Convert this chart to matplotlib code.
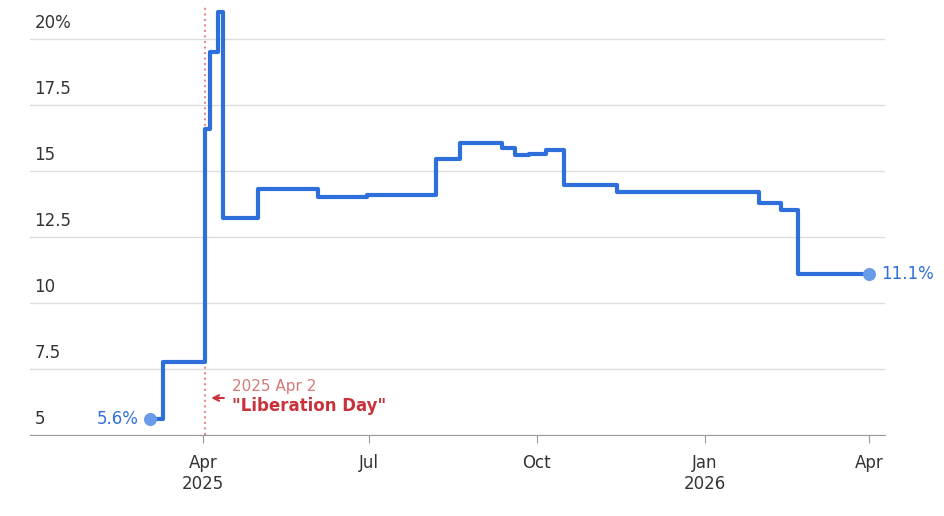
import numpy as np
import matplotlib.pyplot as plt
import matplotlib.dates as mdates
import matplotlib.transforms as mtrans
from datetime import date

# Step changes (date, rate %)
dates = ["2025-03-03", "2025-03-10", "2025-04-02", "2025-04-03", "2025-04-05", "2025-04-09",
         "2025-04-12", "2025-05-01", "2025-06-03", "2025-06-30", "2025-08-07", "2025-08-20",
         "2025-09-12", "2025-09-19", "2025-09-27", "2025-10-06", "2025-10-16", "2025-11-14",
         "2026-01-31", "2026-02-12", "2026-02-21", "2026-04-01"]
rates = [5.6, 7.75, 16.6, 16.6, 19.5, 21.0,
         13.2, 14.3, 14.0, 14.1, 15.45, 16.05,
         15.85, 15.6, 15.65, 15.8, 14.45, 14.2,
         13.8, 13.5, 11.1, 11.1]
yticks = [5, 7.5, 10, 12.5, 15, 17.5, 20]
ylabels = ["5", "7.5", "10", "12.5", "15", "17.5", "20%"]
xticks = ["2025-04-01", "2025-07-01", "2025-10-01", "2026-01-01", "2026-04-01"]
xlabels = ["Apr\n2025", "Jul", "Oct", "Jan\n2026", "Apr"]

blue = "#2f6fdb"
red = "#c8333b"
x = mdates.datestr2num(dates)

fig = plt.figure(figsize=(9.45, 5.16), dpi=100)
ax = fig.add_axes([30/945, 81/516, 855/945, 428/516])
apr1 = mdates.date2num(date(2025, 4, 1))
ax.set_xlim(apr1 - 94.8, apr1 + 373.9)
ax.set_ylim(5, 21.2)

ax.step(x, rates, where="post", color=blue, lw=3, zorder=3)
ax.scatter([x[0], x[-1]], [rates[0], rates[-1]], s=70, color="#6a9be8", zorder=4)

for s in ["top", "right", "left"]:
    ax.spines[s].set_visible(False)
ax.spines["bottom"].set_color("#999999")
ax.set_yticks(yticks)
ax.set_yticklabels([])
ax.tick_params(axis="y", length=0)
ax.grid(axis="y", color="#dddddd", lw=1)
tr = mtrans.blended_transform_factory(ax.transAxes, ax.transData)
for v, l in zip(yticks, ylabels):
    ax.text(0.005, v + 0.25, l, transform=tr, fontsize=12, color="#333333", va="bottom", ha="left")

ax.set_xticks(mdates.datestr2num(xticks))
ax.set_xticklabels(xlabels, fontsize=12, color="#333333")
ax.tick_params(axis="x", length=6, color="#999999", pad=8)

lib = mdates.datestr2num("2025-04-02")
ax.axvline(lib, color="#e88a8a", ls=":", lw=1.5, zorder=2)
ax.annotate("", xy=(lib + 2, 6.4), xytext=(lib + 12, 6.4),
            arrowprops=dict(arrowstyle="->", color=red, lw=1.5))
ax.text(lib + 15, 6.85, "2025 Apr 2", color="#d47a7a", fontsize=11, va="center")
ax.text(lib + 15, 6.1, '"Liberation Day"', color=red, fontsize=12, fontweight="bold", va="center")

ax.text(x[0] - 6, rates[0], "5.6%", color=blue, fontsize=12, ha="right", va="center")
ax.text(x[-1] + 7, rates[-1], "11.1%", color=blue, fontsize=12, ha="left", va="center")

plt.savefig("out.png", dpi=100)
plt.close()
